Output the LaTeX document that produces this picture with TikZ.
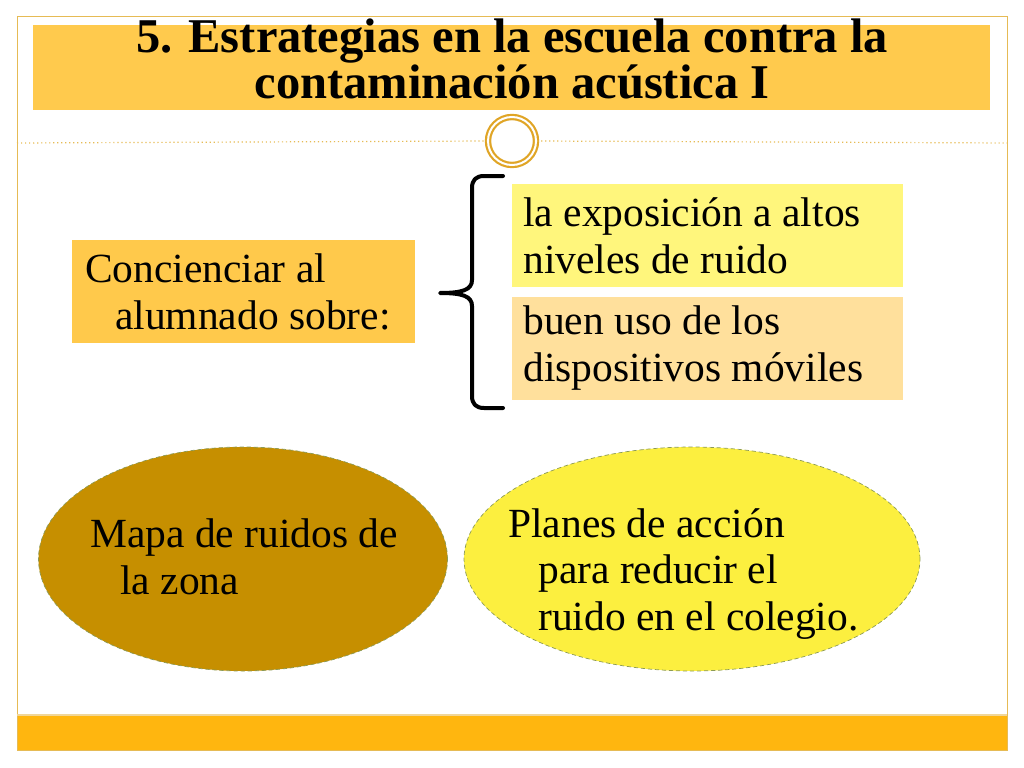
\documentclass[tikz,border=0pt]{standalone}
\usepackage{fontspec}
\setmainfont{Liberation Serif}
\usepackage{tikz}
\usetikzlibrary{positioning,shapes.geometric}

\newlength\pix
\setlength\pix{0.025cm}

\definecolor{oro}{HTML}{E0A526}
\definecolor{marco}{HTML}{E6BB55}
\definecolor{tituloFondo}{HTML}{FFCA4D}
\definecolor{barraFondo}{HTML}{FFB60F}
\definecolor{concienciaFondo}{HTML}{FFC94B}
\definecolor{expoFondo}{HTML}{FFF67C}
\definecolor{movilFondo}{HTML}{FFE09C}
\definecolor{mapaFondo}{HTML}{C68F00}
\definecolor{planesFondo}{HTML}{FCEF3F}
\definecolor{bordeVerde}{HTML}{8C9A55}

\tikzset{
  caja/.style={rectangle, inner xsep=11\pix, inner ysep=0pt, minimum height=103\pix,
    text width=369\pix, align=left, font=\fontsize{29.5}{33.5}\selectfont,
    execute at begin node={\spaceskip=0pt\xspaceskip=0pt}},
  texto/.style={inner sep=0pt, align=left, font=\fontsize{29.5}{33}\selectfont},
  mancha/.style={ellipse, draw=bordeVerde, densely dashed, line width=0.5pt, inner sep=0pt},
  llave/.style={line width=4\pix, line cap=round, line join=round},
}

\begin{document}
\begin{tikzpicture}[x=0.025cm,y=-0.025cm]
  \useasboundingbox (0,0) rectangle (1024,768);
  % marco y barra inferior
  \fill[barraFondo] (17,716) rectangle (1007,750);
  \draw[marco, line width=1\pix] (17,17) rectangle (1007,750);
  \draw[marco!60, line width=1.5\pix] (17,715) -- (1007,715);
  % titulo
  \node[fill=tituloFondo, minimum width=957\pix, minimum height=85\pix, anchor=north west,
    inner sep=0pt] (titulo) at (33,25) {};
  \node[inner sep=0pt, align=center, font=\bfseries\fontsize{34.5}{32.6}\selectfont]
    (tituloTexto) at (512,59) {5. Estrategias en la escuela contra la\\contaminación acústica I};
  % anillo y linea punteada
  \node[circle, minimum size=48\pix, fill=white, draw=oro, line width=2.2\pix,
    double=white, double distance=2\pix] (anillo) at (512,141) {};
  \draw[marco, dotted, line width=1.2\pix] (17,143) -- (anillo.west);
  \draw[marco, dotted, line width=1.2\pix] (anillo.east) -- (1007,143);
  % cajas
  \node[caja, fill=concienciaFondo, inner xsep=13\pix, text width=317\pix, anchor=north west]
    (conciencia) at (72,240) {Concienciar al\\\hspace*{30\pix}alumnado sobre:};
  \node[caja, fill=expoFondo, anchor=north west] (exposicion) at (512,184)
    {la exposición a altos\\niveles de ruido};
  \node[caja, fill=movilFondo, below=9\pix of exposicion] (moviles)
    {buen uso de los\\dispositivos móviles};
  % llave
  \draw[llave] (503,176) -- (484,176) .. controls (476,176) and (472,180) .. (472,188)
    -- (472,280) .. controls (472,290) and (462,293) .. (440,293)
    .. controls (462,293) and (472,296) .. (472,306)
    -- (472,396) .. controls (472,404) and (476,408) .. (484,408) -- (503,408);
  % elipses
  \node[mancha, fill=mapaFondo, minimum width=409\pix, minimum height=224\pix] (mapa) at (243,559) {};
  \node[texto, anchor=west] (mapaTexto) at (90,557) {Mapa de ruidos de\\\hspace*{30\pix}la zona};
  \node[mancha, fill=planesFondo, minimum width=456\pix, minimum height=224\pix] (planes) at (692,559) {};
  \node[texto, anchor=west] (planesTexto) at (508,574)
    {Planes de acción\\\hspace*{30\pix}para reducir el\\\hspace*{30\pix}ruido en el colegio.};
\end{tikzpicture}
\end{document}
